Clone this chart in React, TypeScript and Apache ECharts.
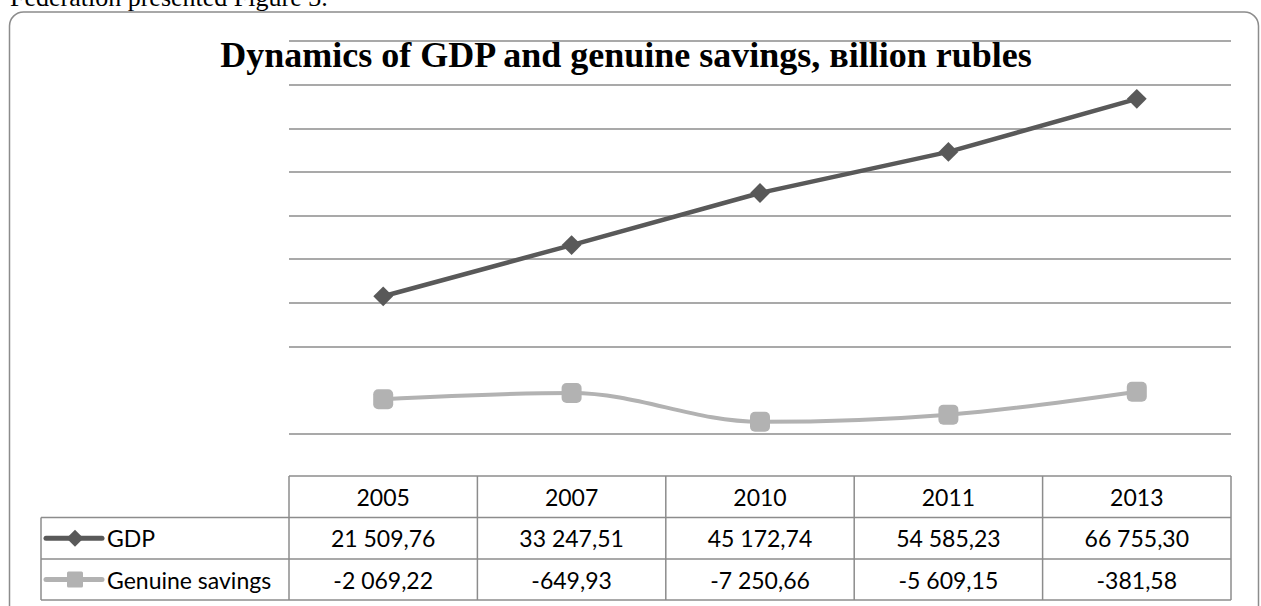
import React, { useEffect, useRef } from "react";
import * as echarts from "echarts";

const years = ["2005", "2007", "2010", "2011", "2013"];
const gdp = [21509.76, 33247.51, 45172.74, 54585.23, 66755.3];
const savings = [-2069.22, -649.93, -7250.66, -5609.15, -381.58];
const seriesNames = ["GDP", "Genuine savings"];
const titleText = "Dynamics of GDP and genuine savings, вillion rubles";
const captionText = "Federation presented Figure 3.";
const yMin = -10000;
const yMax = 80000;
const yInterval = 10000;

const GDP_COLOR = "#595959";
const GS_COLOR = "#b2b2b2";
const GRID_COLOR = "#8c8c8c";

function fmt(v: number): string {
  const neg = v < 0;
  const [i, d] = Math.abs(v).toFixed(2).split(".");
  const withSp = i.replace(/\B(?=(\d{3})+(?!\d))/g, " ");
  return (neg ? "-" : "") + withSp + "," + d;
}

export default function App() {
  const ref = useRef<HTMLDivElement>(null);
  useEffect(() => {
    document.body.style.margin = "0";
    if (!ref.current) return;
    const chart = echarts.init(ref.current, undefined, { renderer: "svg" });

    const W = 1261;
    const plotLeft = 289;
    const plotRight = 1231;
    const plotTop = 41;
    const plotBottom = 433.8;
    const tableTop = 476;
    const rowLines = [517.5, 559, 600];
    const legendLeft = 41;
    const colW = (plotRight - plotLeft) / years.length;
    const tableFont = '23px Lato';

    const nTicks = Math.round((yMax - yMin) / yInterval) + 1;
    const splitColors: string[] = [];
    for (let k = 0; k < nTicks; k++) {
      const val = yMin + k * yInterval;
      splitColors.push(val === 0 ? "rgba(0,0,0,0)" : GRID_COLOR);
    }

    const g: any[] = [];
    // outer rounded border
    g.push({
      type: "rect",
      shape: { x: 9.5, y: 12, width: 1249, height: 640, r: 14 },
      style: { fill: "none", stroke: GRID_COLOR, lineWidth: 1.5 },
      z: 0,
    });
    // caption (cut at top, as in the source page)
    g.push({
      type: "text",
      x: 10,
      y: -3,
      style: {
        text: captionText,
        font: '26px "Liberation Serif"',
        fill: "#000",
        textAlign: "left",
        textVerticalAlign: "middle",
      },
    });
    // title
    g.push({
      type: "text",
      x: 626,
      y: 55,
      style: {
        text: titleText,
        font: 'bold 36px "Liberation Serif"',
        fill: "#000",
        textAlign: "center",
        textVerticalAlign: "middle",
      },
    });
    // table lines
    const ln = (x1: number, y1: number, x2: number, y2: number) =>
      g.push({
        type: "line",
        shape: { x1, y1, x2, y2 },
        style: { stroke: GRID_COLOR, lineWidth: 1.5 },
      });
    ln(plotLeft, tableTop, plotRight, tableTop);
    rowLines.forEach((y) => ln(legendLeft, y, plotRight, y));
    ln(legendLeft, rowLines[0], legendLeft, rowLines[2]);
    for (let c = 0; c <= years.length; c++) {
      const x = plotLeft + c * colW;
      ln(x, tableTop, x, rowLines[2]);
    }
    const rowCenters = [
      (tableTop + rowLines[0]) / 2,
      (rowLines[0] + rowLines[1]) / 2,
      (rowLines[1] + rowLines[2]) / 2,
    ];
    const txt = (s: string, x: number, y: number, align = "center") =>
      g.push({
        type: "text",
        x,
        y,
        style: {
          text: s,
          font: tableFont,
          fill: "#000",
          textAlign: align,
          textVerticalAlign: "middle",
        },
      });
    years.forEach((yr, c) => {
      const cx = plotLeft + (c + 0.5) * colW;
      txt(yr, cx, rowCenters[0]);
      txt(fmt(gdp[c]), cx, rowCenters[1]);
      txt(fmt(savings[c]), cx, rowCenters[2]);
    });
    // legend keys
    const keyX1 = 46;
    const keyX2 = 102;
    const keyMid = 75;
    g.push({
      type: "line",
      shape: { x1: keyX1, y1: rowCenters[1], x2: keyX2, y2: rowCenters[1] },
      style: { stroke: GDP_COLOR, lineWidth: 5, lineCap: "round" },
    });
    g.push({
      type: "rect",
      x: keyMid,
      y: rowCenters[1],
      rotation: Math.PI / 4,
      shape: { x: -6, y: -6, width: 12, height: 12 },
      style: { fill: GDP_COLOR },
    });
    g.push({
      type: "line",
      shape: { x1: keyX1, y1: rowCenters[2], x2: keyX2, y2: rowCenters[2] },
      style: { stroke: GS_COLOR, lineWidth: 5, lineCap: "round" },
    });
    g.push({
      type: "rect",
      shape: { x: keyMid - 8, y: rowCenters[2] - 8, width: 16, height: 16, r: 1.5 },
      style: { fill: GS_COLOR },
    });
    txt(seriesNames[0], 107, rowCenters[1], "left");
    txt(seriesNames[1], 107, rowCenters[2], "left");

    chart.setOption({
      animation: false,
      backgroundColor: "#fff",
      grid: {
        left: plotLeft,
        right: W - plotRight,
        top: plotTop,
        bottom: 606 - plotBottom,
        containLabel: false,
      },
      xAxis: {
        type: "category",
        data: years,
        boundaryGap: true,
        axisLine: { show: false },
        axisTick: { show: false },
        axisLabel: { show: false },
        splitLine: { show: false },
      },
      yAxis: {
        type: "value",
        min: yMin,
        max: yMax,
        interval: yInterval,
        axisLine: { show: false },
        axisTick: { show: false },
        axisLabel: { show: false },
        splitLine: {
          show: true,
          lineStyle: { color: splitColors, width: 1.5 },
        },
      },
      series: [
        {
          name: seriesNames[0],
          type: "line",
          data: gdp,
          symbol: "rect",
          symbolSize: 14,
          symbolRotate: 45,
          itemStyle: { color: GDP_COLOR },
          lineStyle: { color: GDP_COLOR, width: 4.5 },
          z: 3,
        },
        {
          name: seriesNames[1],
          type: "line",
          data: savings,
          smooth: 0.35,
          symbol: "roundRect",
          symbolSize: 20,
          itemStyle: { color: GS_COLOR },
          lineStyle: { color: GS_COLOR, width: 4 },
          z: 3,
        },
      ],
      graphic: g,
    });
    return () => chart.dispose();
  }, []);
  return <div ref={ref} style={{ width: 1261, height: 606 }} />;
}
